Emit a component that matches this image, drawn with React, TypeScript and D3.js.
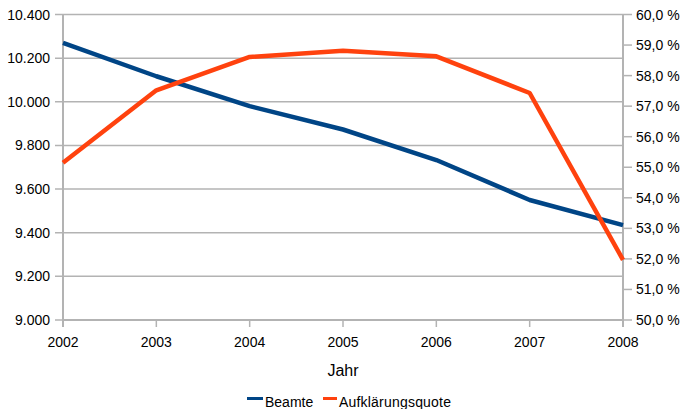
import * as d3 from "d3";

const years = [2002, 2003, 2004, 2005, 2006, 2007, 2008];
const beamte = [10270, 10117, 9980, 9873, 9733, 9550, 9435];
const quote = [55.15, 57.52, 58.61, 58.81, 58.63, 57.43, 51.97];
const leftTicks = [9000, 9200, 9400, 9600, 9800, 10000, 10200, 10400];
const rightTicks = [50, 51, 52, 53, 54, 55, 56, 57, 58, 59, 60];

const WIDTH = 681;
const HEIGHT = 409;
const MARGIN = { top: 14.5, right: 58, bottom: 89, left: 63 };
const FONT = "'Liberation Sans', Arial, sans-serif";
const GRID = "#b3b3b3";

const fmtLeft = (v: number) => d3.format(",")(v).replace(",", ".");
const fmtRight = (v: number) => v.toFixed(1).replace(".", ",") + " %";

const App = () => {
  const boundsWidth = WIDTH - MARGIN.left - MARGIN.right;
  const boundsHeight = HEIGHT - MARGIN.top - MARGIN.bottom;

  const xScale = d3.scaleLinear().domain([2002, 2008]).range([0, boundsWidth]);
  const yLeft = d3.scaleLinear().domain([9000, 10400]).range([boundsHeight, 0]);
  const yRight = d3.scaleLinear().domain([50, 60]).range([boundsHeight, 0]);

  const lineLeft = d3
    .line<number>()
    .x((_, i) => xScale(years[i]))
    .y((d) => yLeft(d));
  const lineRight = d3
    .line<number>()
    .x((_, i) => xScale(years[i]))
    .y((d) => yRight(d));

  return (
    <svg
      width={WIDTH}
      height={HEIGHT}
      style={{ position: "absolute", left: 0, top: 0, background: "white" }}
      fontFamily={FONT}
    >
      <g transform={`translate(${MARGIN.left},${MARGIN.top})`}>
        {leftTicks.map((t) => (
          <g key={t}>
            <line x1={-8} x2={boundsWidth} y1={yLeft(t)} y2={yLeft(t)} stroke={GRID} strokeWidth={1.5} />
            <text x={-13} y={yLeft(t)} textAnchor="end" dominantBaseline="central" fontSize={14} fill="#000">
              {fmtLeft(t)}
            </text>
          </g>
        ))}
        {rightTicks.map((t) => (
          <g key={t}>
            <line x1={boundsWidth} x2={boundsWidth + 9} y1={yRight(t)} y2={yRight(t)} stroke={GRID} strokeWidth={1.5} />
            <text x={boundsWidth + 13} y={yRight(t)} dominantBaseline="central" fontSize={14} fill="#000">
              {fmtRight(t)}
            </text>
          </g>
        ))}
        {years.map((y) => (
          <g key={y}>
            <line x1={xScale(y)} x2={xScale(y)} y1={boundsHeight} y2={boundsHeight + 7} stroke={GRID} strokeWidth={1.5} />
            <text x={xScale(y)} y={boundsHeight + 22} textAnchor="middle" dominantBaseline="central" fontSize={14} fill="#000">
              {y}
            </text>
          </g>
        ))}
        <line x1={0} x2={0} y1={0} y2={boundsHeight + 7} stroke={GRID} strokeWidth={2} />
        <line x1={boundsWidth} x2={boundsWidth} y1={0} y2={boundsHeight + 7} stroke={GRID} strokeWidth={2} />
        <line x1={0} x2={boundsWidth} y1={boundsHeight} y2={boundsHeight} stroke={GRID} strokeWidth={2} />

        <path d={lineLeft(beamte)!} fill="none" stroke="#004586" strokeWidth={4.5} strokeLinejoin="round" />
        <path d={lineRight(quote)!} fill="none" stroke="#ff420e" strokeWidth={4.5} strokeLinejoin="round" />

        <text x={boundsWidth / 2} y={boundsHeight + 50} textAnchor="middle" dominantBaseline="central" fontSize={16} fill="#000">
          Jahr
        </text>
      </g>
      <g transform="translate(247,397)">
        <rect x={0} y={0} width={16} height={3} fill="#004586" />
        <text x={18} y={5} dominantBaseline="central" fontSize={14} fill="#000">
          Beamte
        </text>
        <rect x={76} y={0} width={14} height={3} fill="#ff420e" />
        <text x={92} y={5} dominantBaseline="central" fontSize={14} fill="#000" letterSpacing={0.2}>
          Aufklärungsquote
        </text>
      </g>
    </svg>
  );
};

export default App;
